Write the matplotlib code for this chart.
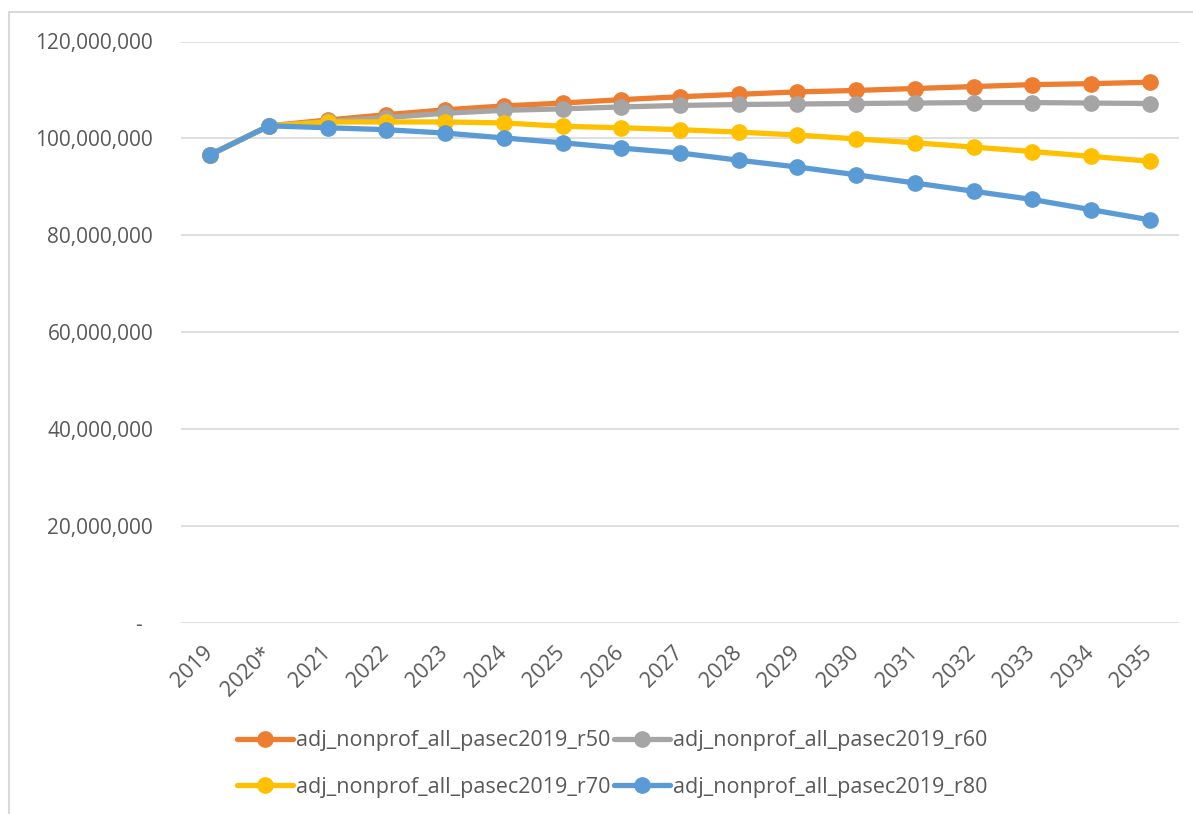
import matplotlib.pyplot as plt
from matplotlib.patches import Rectangle
from matplotlib.ticker import FuncFormatter
from matplotlib.transforms import ScaledTranslation

plt.rcParams['font.family'] = ['Open Sans', 'DejaVu Sans']

years = ['2019', '2020*', '2021', '2022', '2023', '2024', '2025', '2026', '2027',
         '2028', '2029', '2030', '2031', '2032', '2033', '2034', '2035']

# values in millions
r50 = [96.65, 102.6, 103.8, 104.9, 105.9, 106.7, 107.3, 108.0, 108.6,
       109.1, 109.6, 109.9, 110.3, 110.7, 111.1, 111.3, 111.6]
r60 = [96.65, 102.6, 103.5, 104.3, 105.2, 105.8, 106.1, 106.5, 106.8,
       107.0, 107.1, 107.2, 107.3, 107.4, 107.4, 107.3, 107.2]
r70 = [96.65, 102.6, 103.4, 103.4, 103.4, 103.2, 102.5, 102.2, 101.8,
       101.3, 100.7, 99.9, 99.1, 98.2, 97.3, 96.3, 95.3]
r80 = [96.65, 102.6, 102.2, 101.8, 101.1, 100.1, 99.1, 98.0, 97.0,
       95.5, 94.1, 92.5, 90.8, 89.1, 87.4, 85.3, 83.2]

names = ['adj_nonprof_all_pasec2019_r50', 'adj_nonprof_all_pasec2019_r60',
         'adj_nonprof_all_pasec2019_r70', 'adj_nonprof_all_pasec2019_r80']
colors = ['#ED7D31', '#A5A5A5', '#FFC000', '#5B9BD5']

fig = plt.figure(figsize=(11.93, 8.14), dpi=100)
ax = fig.add_axes([181/1193, 1 - 623/814, (1179 - 181)/1193, (623 - 41.5)/814])

x = range(len(years))
lines = []
for vals, name, c in zip([r50, r60, r70, r80], names, colors):
    ln, = ax.plot(x, [v * 1e6 for v in vals], color=c, lw=3.8, marker='o', ms=11,
                  label=name, solid_capstyle='round')
    lines.append(ln)

ax.set_xlim(-0.5, len(years) - 0.5)
ax.set_ylim(0, 120e6)
ax.set_yticks(range(0, 120000001, 20000000))
ax.yaxis.set_major_formatter(FuncFormatter(lambda v, p: '-  ' if v == 0 else f'{v:,.0f}'))
ax.set_xticks(list(x))
ax.set_xticklabels(years, rotation=45, ha='right', va='top')
ax.tick_params(axis='x', length=0, pad=14, labelsize=15.5, labelcolor='#595959')
ax.tick_params(axis='y', length=0, pad=20, labelsize=15, labelcolor='#595959')
# nudge the rotated year labels a little to the right, like Excel
shift = ScaledTranslation(7/100, 0, fig.dpi_scale_trans)
for lab in ax.get_xticklabels():
    lab.set_transform(lab.get_transform() + shift)
ax.grid(axis='y', color='#D9D9D9', lw=1.2)
ax.set_axisbelow(True)
for s in ax.spines.values():
    s.set_visible(False)

# row-major order: r50, r60 on top row; r70, r80 below
order = [0, 2, 1, 3]
fig.legend([lines[i] for i in order], [names[i] for i in order],
           loc='center', bbox_to_anchor=(612/1193, 1 - 764/814), ncol=2,
           frameon=False, fontsize=15.5, handlelength=2.6, handletextpad=0.15,
           columnspacing=0.15, labelspacing=1.2, labelcolor='#595959')

fig.patches.append(Rectangle((9/1193, -0.1), 1.2, 1.1 - 12/814, transform=fig.transFigure,
                             fill=False, edgecolor='#D9D9D9', lw=1.5))

fig.savefig('out.png', dpi=100)
